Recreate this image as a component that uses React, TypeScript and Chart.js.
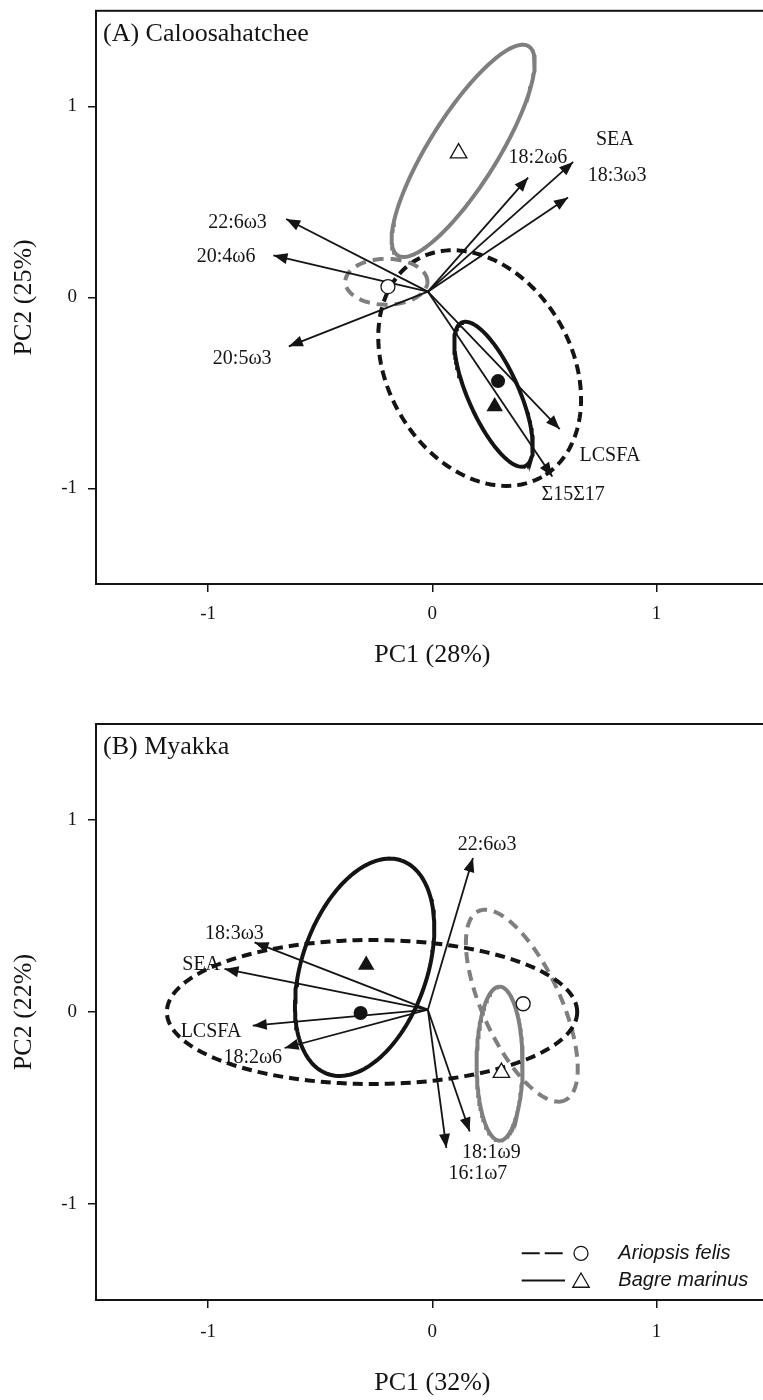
import React, { useEffect, useRef } from 'react';
import { Chart, registerables } from 'chart.js';

Chart.register(...registerables);

// ---------- shared ----------
const xTicks = [-1, 0, 1];
const yTicks = [-1, 0, 1];
const axisMin = -1.5;
const axisMax = 1.5;
const speciesNames = ['Ariopsis felis', 'Bagre marinus']; // 0: dashed / circle, 1: solid / triangle

// ---------- Panel A : Caloosahatchee ----------
const aTitle = '(A) Caloosahatchee';
const aXTitle = 'PC1 (28%)';
const aYTitle = 'PC2 (25%)';
const aOrigin = [-0.02, 0.03];
const aVectorNames = ['22:6ω3', '20:4ω6', '20:5ω3', '18:2ω6', 'SEA', '18:3ω3', 'LCSFA', 'Σ15Σ17'];
const aVectorX = [-0.652, -0.709, -0.64, 0.427, 0.628, 0.605, 0.568, 0.535];
const aVectorY = [0.41, 0.22, -0.256, 0.627, 0.709, 0.523, -0.689, -0.937];
const aLabelX = [-0.869, -0.92, -0.848, 0.471, 0.814, 0.824, 0.792, 0.628];
const aLabelY = [0.393, 0.211, -0.32, 0.731, 0.826, 0.636, -0.828, -1.035];
const aEllipseSpecies = [1, 0, 0, 1];
const aEllipseGroup = [1, 1, 0, 0]; // 0 = black, 1 = grey
const aEllipseCx = [0.1375, -0.205, 0.211, 0.273];
const aEllipseCy = [0.767, 0.082, -0.37, -0.507];
const aEllipseUx = [0.2915, 0.183, 0.277, 0.141];
const aEllipseUy = [0.5475, 0, -0.57, -0.3756];
const aEllipseVx = [0.13, 0, -0.3575, -0.104];
const aEllipseVy = [-0.0935, 0.12, -0.2353, -0.053];
const aCentroidSpecies = [1, 0, 0, 1];
const aCentroidGroup = [1, 1, 0, 0];
const aCentroidX = [0.117, -0.198, 0.293, 0.278];
const aCentroidY = [0.755, 0.056, -0.438, -0.571];

// ---------- Panel B : Myakka ----------
const bTitle = '(B) Myakka';
const bXTitle = 'PC1 (32%)';
const bYTitle = 'PC2 (22%)';
const bOrigin = [-0.02, 0.012];
const bVectorNames = ['22:6ω3', '18:3ω3', 'SEA', 'LCSFA', '18:2ω6', '18:1ω9', '16:1ω7'];
const bVectorX = [0.181, -0.793, -0.927, -0.801, -0.659, 0.1665, 0.0625];
const bVectorY = [0.802, 0.3625, 0.224, -0.071, -0.1875, -0.622, -0.708];
const bLabelX = [0.244, -0.8825, -1.031, -0.987, -0.801, 0.263, 0.2035];
const bLabelY = [0.871, 0.408, 0.246, -0.101, -0.236, -0.734, -0.842];
const bEllipseSpecies = [0, 1, 0, 1];
const bEllipseGroup = [0, 0, 1, 1];
const bEllipseCx = [-0.269, -0.302, 0.399, 0.3];
const bEllipseCy = [0.0, 0.233, 0.033, -0.269];
const bEllipseUx = [0.915, 0.164, 0.1925, 0];
const bEllipseUy = [0, 0.556, -0.4927, 0.401];
const bEllipseVx = [0, 0.264, -0.1585, 0.1027];
const bEllipseVy = [0.375, -0.106, -0.0844, 0];
const bCentroidSpecies = [1, 0, 0, 1];
const bCentroidGroup = [0, 0, 1, 1];
const bCentroidX = [-0.295, -0.32, 0.405, 0.308];
const bCentroidY = [0.245, -0.005, 0.043, -0.316];

const SERIF = "'Liberation Serif', 'Times New Roman', serif";
const SANS = "'Liberation Sans', Arial, sans-serif";
const INK = '#141414';
const GREY = '#7f7f7f';

type Panel = {
  title: string; xTitle: string; yTitle: string;
  origin: number[]; names: string[]; vx: number[]; vy: number[]; lx: number[]; ly: number[];
  eSp: number[]; eGr: number[]; ecx: number[]; ecy: number[]; eux: number[]; euy: number[]; evx: number[]; evy: number[];
  cSp: number[]; cGr: number[]; cx: number[]; cy: number[];
  legend: boolean;
};

const panelA: Panel = {
  title: aTitle, xTitle: aXTitle, yTitle: aYTitle, origin: aOrigin, names: aVectorNames,
  vx: aVectorX, vy: aVectorY, lx: aLabelX, ly: aLabelY,
  eSp: aEllipseSpecies, eGr: aEllipseGroup, ecx: aEllipseCx, ecy: aEllipseCy,
  eux: aEllipseUx, euy: aEllipseUy, evx: aEllipseVx, evy: aEllipseVy,
  cSp: aCentroidSpecies, cGr: aCentroidGroup, cx: aCentroidX, cy: aCentroidY, legend: false,
};
const panelB: Panel = {
  title: bTitle, xTitle: bXTitle, yTitle: bYTitle, origin: bOrigin, names: bVectorNames,
  vx: bVectorX, vy: bVectorY, lx: bLabelX, ly: bLabelY,
  eSp: bEllipseSpecies, eGr: bEllipseGroup, ecx: bEllipseCx, ecy: bEllipseCy,
  eux: bEllipseUx, euy: bEllipseUy, evx: bEllipseVx, evy: bEllipseVy,
  cSp: bCentroidSpecies, cGr: bCentroidGroup, cx: bCentroidX, cy: bCentroidY, legend: true,
};

function ellipsePoints(cx: number, cy: number, ux: number, uy: number, vx: number, vy: number) {
  const pts: { x: number; y: number }[] = [];
  const n = 160;
  for (let i = 0; i <= n; i++) {
    const t = (i / n) * Math.PI * 2;
    pts.push({ x: cx + ux * Math.cos(t) + vx * Math.sin(t), y: cy + uy * Math.cos(t) + vy * Math.sin(t) });
  }
  return pts;
}

function drawMarker(ctx: CanvasRenderingContext2D, species: number, x: number, y: number, filled: boolean) {
  ctx.beginPath();
  if (species === 0) {
    ctx.arc(x, y, 7, 0, Math.PI * 2);
  } else {
    const r = 9.5;
    ctx.moveTo(x, y - r);
    ctx.lineTo(x + r * Math.sin(Math.PI / 3), y + r / 2);
    ctx.lineTo(x - r * Math.sin(Math.PI / 3), y + r / 2);
    ctx.closePath();
  }
  if (filled) {
    ctx.fillStyle = INK;
    ctx.fill();
  } else {
    ctx.fillStyle = '#fff';
    ctx.fill();
    ctx.lineWidth = 1.3;
    ctx.strokeStyle = INK;
    ctx.stroke();
  }
}

function buildConfig(p: Panel, top: number, axisH: number, tickPad: number, titlePadB: number): any {
  const datasets: any[] = [];
  p.ecx.forEach((_, i) => {
    datasets.push({
      kind: 'ellipse',
      data: ellipsePoints(p.ecx[i], p.ecy[i], p.eux[i], p.euy[i], p.evx[i], p.evy[i]),
      showLine: true,
      borderColor: p.eGr[i] === 0 ? INK : GREY,
      borderWidth: 4,
      borderDash: p.eSp[i] === 0 ? (p.eGr[i] === 0 ? [10, 6] : [11, 7]) : [],
      pointRadius: 0,
      fill: false,
      tension: 0,
      order: 2,
    });
  });
  p.names.forEach((_, i) => {
    datasets.push({
      kind: 'vector',
      data: [{ x: p.origin[0], y: p.origin[1] }, { x: p.vx[i], y: p.vy[i] }],
      showLine: true,
      borderColor: INK,
      borderWidth: 1.8,
      pointRadius: 0,
      order: 1,
    });
  });
  datasets.push({
    kind: 'centroid',
    data: p.cx.map((x, i) => ({ x, y: p.cy[i] })),
    showLine: false,
    pointStyle: p.cSp.map((s) => (s === 0 ? 'circle' : 'triangle')),
    pointRadius: p.cSp.map((s) => (s === 0 ? 7 : 9.5)),
    pointBackgroundColor: p.cGr.map((g) => (g === 0 ? INK : '#ffffff')),
    pointBorderColor: INK,
    pointBorderWidth: p.cGr.map((g) => (g === 0 ? 0 : 1.3)),
    order: 0,
  });

  const decor = {
    id: 'decor',
    beforeDatasetsDraw(chart: any) {
      const { ctx, scales } = chart;
      ctx.save();
      ctx.font = `20px ${SERIF}`;
      ctx.fillStyle = INK;
      ctx.textAlign = 'center';
      ctx.textBaseline = 'middle';
      p.names.forEach((n, i) => {
        ctx.fillText(n, scales.x.getPixelForValue(p.lx[i]), scales.y.getPixelForValue(p.ly[i]));
      });
      ctx.restore();
    },
    afterDatasetsDraw(chart: any) {
      const { ctx, chartArea } = chart;
      ctx.save();
      // arrow heads
      ctx.fillStyle = INK;
      chart.data.datasets.forEach((ds: any, i: number) => {
        if (ds.kind !== 'vector') return;
        const meta = chart.getDatasetMeta(i);
        const p0 = meta.data[0];
        const p1 = meta.data[1];
        const ang = Math.atan2(p1.y - p0.y, p1.x - p0.x);
        const L = 14;
        const W = 5.5;
        const bx = p1.x - L * Math.cos(ang);
        const by = p1.y - L * Math.sin(ang);
        ctx.beginPath();
        ctx.moveTo(p1.x, p1.y);
        ctx.lineTo(bx + W * Math.sin(ang), by - W * Math.cos(ang));
        ctx.lineTo(bx - W * Math.sin(ang), by + W * Math.cos(ang));
        ctx.closePath();
        ctx.fill();
      });
      // frame
      ctx.strokeStyle = INK;
      ctx.lineWidth = 2;
      ctx.strokeRect(chartArea.left, chartArea.top, chartArea.right - chartArea.left, chartArea.bottom - chartArea.top);
      // panel title
      ctx.font = `26px ${SERIF}`;
      ctx.fillStyle = INK;
      ctx.textAlign = 'left';
      ctx.textBaseline = 'middle';
      ctx.fillText(p.title, chartArea.left + 7, chartArea.top + 23);
      // legend
      if (p.legend) {
        const rows = [chartArea.bottom - 46.7, chartArea.bottom - 19.5];
        speciesNames.forEach((name, s) => {
          const yy = rows[s];
          ctx.beginPath();
          ctx.lineWidth = 2;
          ctx.strokeStyle = INK;
          ctx.setLineDash(s === 0 ? [18, 5] : []);
          ctx.moveTo(chartArea.left + 425.7, yy);
          ctx.lineTo(chartArea.left + 469, yy);
          ctx.stroke();
          ctx.setLineDash([]);
          drawMarker(ctx, s, chartArea.left + 485, yy + (s === 1 ? 2 : 0), false);
          ctx.font = `italic 20px ${SANS}`;
          ctx.fillStyle = INK;
          ctx.textAlign = 'left';
          ctx.textBaseline = 'middle';
          ctx.fillText(name, chartArea.left + 522.3, yy);
        });
      }
      ctx.restore();
    },
  };

  const tickFont = { family: SERIF, size: 19 };
  const titleFont = { family: SERIF, size: 26 };

  return {
    type: 'scatter',
    data: { datasets },
    plugins: [decor],
    options: {
      responsive: false,
      animation: false,
      events: [],
      layout: { padding: { left: 0, top, right: 11.3, bottom: 0 } },
      plugins: { legend: { display: false }, tooltip: { enabled: false } },
      scales: {
        x: {
          type: 'linear',
          min: axisMin,
          max: axisMax,
          afterBuildTicks: (scale: any) => {
            scale.ticks = xTicks.map((v) => ({ value: v }));
          },
          afterFit: (scale: any) => {
            scale.height = axisH;
            scale.paddingLeft = 0;
            scale.paddingRight = 0;
            scale.paddingTop = 0;
            scale.paddingBottom = 0;
          },
          ticks: { font: tickFont, color: INK, padding: tickPad, callback: (v: any) => String(v) },
          grid: { display: true, drawOnChartArea: false, drawTicks: true, tickLength: 8, color: INK, lineWidth: 1.5 },
          border: { display: false },
          title: { display: true, text: p.xTitle, font: titleFont, color: INK, padding: { top: 0, bottom: titlePadB } },
        },
        y: {
          type: 'linear',
          min: axisMin,
          max: axisMax,
          afterBuildTicks: (scale: any) => {
            scale.ticks = yTicks.map((v) => ({ value: v }));
          },
          afterFit: (scale: any) => {
            scale.width = 96;
            scale.paddingLeft = 0;
            scale.paddingRight = 0;
            scale.paddingTop = 0;
            scale.paddingBottom = 0;
          },
          ticks: { font: tickFont, color: INK, padding: 11, callback: (v: any) => String(v) },
          grid: { display: true, drawOnChartArea: false, drawTicks: true, tickLength: 8, color: INK, lineWidth: 1.5 },
          border: { display: false },
          title: { display: true, text: p.yTitle, font: titleFont, color: INK, padding: { top: 9, bottom: 0 } },
        },
      },
    },
  };
}

function PanelChart({ panel, height, top, axisH, tickPad, titlePadB }: { panel: Panel; height: number; top: number; axisH: number; tickPad: number; titlePadB: number }) {
  const ref = useRef<HTMLCanvasElement | null>(null);
  useEffect(() => {
    if (!ref.current) return;
    const chart = new Chart(ref.current, buildConfig(panel, top, axisH, tickPad, titlePadB));
    return () => chart.destroy();
  }, [panel, height, top, axisH, tickPad, titlePadB]);
  return <canvas ref={ref} width={780} height={height} style={{ display: 'block', width: 780, height }} />;
}

export default function App() {
  return (
    <div style={{ position: 'absolute', top: 0, left: 0, width: 763, height: 1400, overflow: 'hidden', background: '#fff' }}>
      <div style={{ position: 'absolute', top: 0, left: 0 }}>
        <PanelChart panel={panelA} height={690} top={7} axisH={106} tickPad={10.5} titlePadB={19.4} />
      </div>
      <div style={{ position: 'absolute', top: 690, left: 0 }}>
        <PanelChart panel={panelB} height={710} top={34} axisH={100} tickPad={12.5} titlePadB={1.4} />
      </div>
    </div>
  );
}
